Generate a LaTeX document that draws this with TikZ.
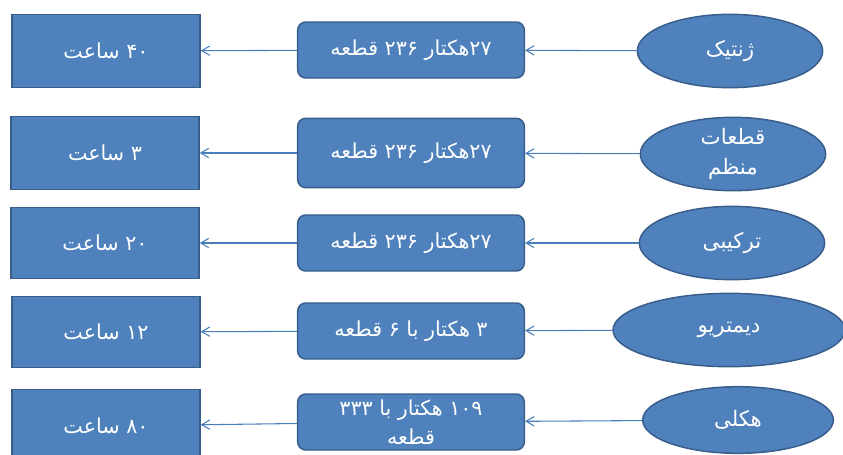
\documentclass[tikz,border=0pt]{standalone}
\usepackage{fontspec}
\newfontfamily\arabicfont[Script=Arabic]{DejaVu Sans}
\TeXXeTstate=1
\usetikzlibrary{arrows.meta, shapes.geometric}
\newcommand{\fatext}[1]{\arabicfont\beginR #1\endR}

\definecolor{boxfill}{HTML}{4F81BD}
\definecolor{boxline}{HTML}{385D8A}
\definecolor{arrowline}{HTML}{4A7EBB}

\begin{document}
\begin{tikzpicture}[x=0.75pt, y=-0.75pt,
    hours/.style={draw=boxline, fill=boxfill, line width=1.1pt, text=white,
      minimum width=141pt, minimum height=55pt, inner sep=0pt, font=\fontsize{15.5}{22}\selectfont},
    area/.style={draw=boxline, fill=boxfill, line width=1.1pt, text=white, rounded corners=6pt,
      minimum width=170pt, minimum height=42pt, inner sep=0pt, align=center, font=\fontsize{15.5}{22}\selectfont},
    method/.style={ellipse, draw=boxline, fill=boxfill, line width=1.1pt, text=white,
      minimum width=139pt, minimum height=55pt, inner sep=0pt, align=center, font=\fontsize{16}{22}\selectfont},
    link/.style={arrowline, line width=0.8pt, -{Straight Barb[length=6pt, width=7pt]}}]
    \useasboundingbox (0, 0) rectangle (843, 454);
    % row 1
    \node[method] (m1) at (730, 51) {\fatext{ژنتیک}};
    \node[area] (a1) at (411, 50) {\fatext{۲۷هکتار ۲۳۶ قطعه}};
    \node[hours] (h1) at (106, 51) {\fatext{۴۰ ساعت}};
    % row 2
    \node[method] (m2) at (733, 154) {\fatext{قطعات}\\\fatext{منظم}};
    \node[area, minimum height=52pt] (a2) at (411, 153) {\fatext{۲۷هکتار ۲۳۶ قطعه}};
    \node[hours] (h2) at (105, 153) {\fatext{۳ ساعت}};
    % row 3
    \node[method] (m3) at (732, 243) {\fatext{ترکیبی}};
    \node[area] (a3) at (411, 243) {\fatext{۲۷هکتار ۲۳۶ قطعه}};
    \node[hours, minimum height=53pt] (h3) at (105, 243) {\fatext{۲۰ ساعت}};
    % row 4
    \node[method, minimum width=174pt, minimum height=55pt] (m4) at (729, 330) {\fatext{دیمتریو}};
    \node[area] (a4) at (411, 331) {\fatext{۳ هکتار با ۶ قطعه}};
    \node[hours, minimum height=53pt] (h4) at (106, 332) {\fatext{۱۲ ساعت}};
    % row 5
    \node[method, minimum width=143pt, minimum height=50pt] (m5) at (738, 420) {\fatext{هکلی}};
    \node[area] (a5) at (411, 422) {\fatext{۱۰۹ هکتار با ۳۳۳}\\\fatext{قطعه}};
    \node[hours] (h5) at (106, 426) {\fatext{۸۰ ساعت}};
    % arrows
    \foreach \i in {1,...,5} {
      \draw[link] (m\i) -- (a\i);
      \draw[link] (a\i) -- (h\i);
    }
\end{tikzpicture}
\end{document}
